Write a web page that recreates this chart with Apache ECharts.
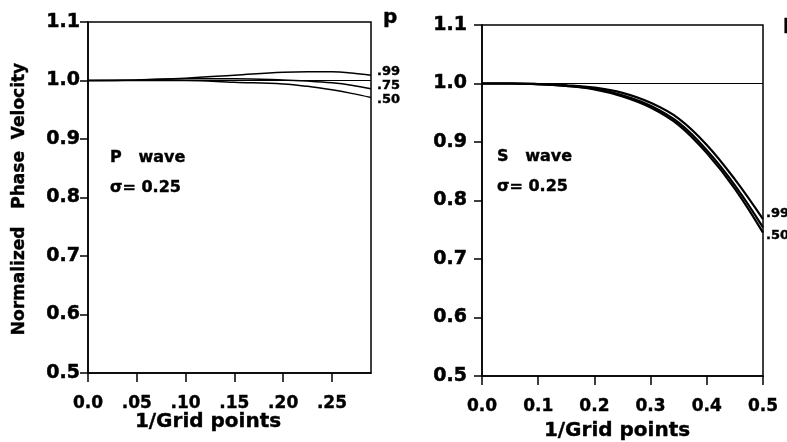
<!DOCTYPE html>
<html lang="en">
<head>
  <meta charset="utf-8">
  <style>
    html, body { margin: 0; padding: 0; background: #fff; }
    #chart { width: 787px; height: 442px; }
  </style>
</head>
<body>
  <div id="chart"></div>
  <script src="https://cdn.jsdelivr.net/npm/echarts@6/dist/echarts.min.js"></script>
  <script>
    // P wave panel
    var xP = [0, 0.05, 0.10, 0.15, 0.20, 0.225, 0.25, 0.27, 0.29];
    var p99 = [1.000, 1.001, 1.004, 1.009, 1.014, 1.015, 1.015, 1.013, 1.009];
    var p75 = [1.000, 1.001, 1.003, 1.003, 1.001, 0.999, 0.996, 0.992, 0.986];
    var p50 = [1.000, 1.000, 1.000, 0.997, 0.994, 0.990, 0.984, 0.978, 0.971];
    var xTicksP = [0, 0.05, 0.10, 0.15, 0.20, 0.25];
    var xLabelsP = ['0.0', '.05', '.10', '.15', '.20', '.25'];

    // S wave panel
    var xS = [0, 0.05, 0.10, 0.15, 0.20, 0.25, 0.30, 0.35, 0.40, 0.45, 0.50];
    var s99 = [1.000, 1.000, 0.999, 0.997, 0.993, 0.984, 0.967, 0.940, 0.895, 0.836, 0.768];
    var s75 = [1.000, 1.000, 0.999, 0.996, 0.991, 0.980, 0.962, 0.933, 0.886, 0.826, 0.754];
    var s50 = [1.000, 1.000, 0.999, 0.996, 0.990, 0.978, 0.959, 0.929, 0.881, 0.820, 0.745];
    var xTicksS = [0, 0.1, 0.2, 0.3, 0.4, 0.5];
    var xLabelsS = ['0.0', '0.1', '0.2', '0.3', '0.4', '0.5'];

    var refLevel = 1.0;
    var FONT = 'DejaVu Sans';

    function pairs(xs, ys) {
      return xs.map(function (x, i) { return [x, ys[i]]; });
    }

    function xAxisFor(idx, max, ticks, labels) {
      return {
        type: 'value', gridIndex: idx, min: 0, max: max,
        axisLine: { show: true, lineStyle: { color: '#000', width: 1.5 } },
        axisTick: { show: true, customValues: ticks, length: 9, lineStyle: { color: '#000', width: 1.5 } },
        axisLabel: {
          customValues: ticks, margin: 22, color: '#000',
          fontFamily: FONT, fontWeight: 'bold', fontSize: 17,
          textBorderColor: '#000', textBorderWidth: 0.4,
          formatter: function (v) {
            for (var i = 0; i < ticks.length; i++) {
              if (Math.abs(ticks[i] - v) < 1e-6) return labels[i];
            }
            return '';
          }
        },
        splitLine: { show: false }
      };
    }

    function yAxisFor(idx, margin) {
      return {
        type: 'value', gridIndex: idx, min: 0.5, max: 1.1, interval: 0.1,
        axisLine: { show: true, lineStyle: { color: '#000', width: 1.5 } },
        axisTick: { show: true, length: 8, lineStyle: { color: '#000', width: 1.5 } },
        axisLabel: {
          margin: margin, color: '#000',
          fontFamily: FONT, fontWeight: 'bold', fontSize: 19,
          textBorderColor: '#000', textBorderWidth: 0.5,
          formatter: function (v) { return v.toFixed(1); }
        },
        splitLine: { show: false }
      };
    }

    function curve(idx, xs, ys, w) {
      return {
        type: 'line', xAxisIndex: idx, yAxisIndex: idx,
        data: pairs(xs, ys), smooth: 0.4, symbol: 'none',
        lineStyle: { color: '#000', width: w }, silent: true
      };
    }

    function refLine(idx) {
      return {
        type: 'line', xAxisIndex: idx, yAxisIndex: idx, data: [],
        markLine: {
          silent: true, symbol: 'none', label: { show: false },
          lineStyle: { color: '#000', width: 1, type: 'solid' },
          data: [{ yAxis: refLevel }]
        }
      };
    }

    function txt(x, y, s, size, align, rot) {
      return {
        type: 'text', x: x, y: y, rotation: rot || 0, silent: true,
        style: {
          text: s, fill: '#000',
          font: 'bold ' + size + 'px "' + FONT + '"',
          stroke: '#000', lineWidth: 0.4,
          textAlign: align || 'left', textVerticalAlign: 'middle'
        }
      };
    }

    var chart = echarts.init(document.getElementById('chart'));
    chart.setOption({
      backgroundColor: '#fff',
      animation: false,
      grid: [
        { left: 88, top: 22, width: 283, height: 351, show: true, borderColor: '#000', borderWidth: 1.5 },
        { left: 482, top: 25, width: 281, height: 351, show: true, borderColor: '#000', borderWidth: 1.5 }
      ],
      xAxis: [xAxisFor(0, 0.29, xTicksP, xLabelsP), xAxisFor(1, 0.5, xTicksS, xLabelsS)],
      yAxis: [yAxisFor(0, 8), yAxisFor(1, 15)],
      series: [
        refLine(0),
        curve(0, xP, p99, 1.5), curve(0, xP, p75, 1.5), curve(0, xP, p50, 1.5),
        refLine(1),
        curve(1, xS, s99, 2.2), curve(1, xS, s75, 2.2), curve(1, xS, s50, 2.2)
      ],
      graphic: [
        txt(20, 199, 'Normalized   Phase  Velocity', 17, 'center', Math.PI / 2),
        txt(208, 422, '1/Grid points', 20, 'center'),
        txt(617, 431, '1/Grid points', 20, 'center'),
        txt(110, 158, 'P   wave', 16),
        txt(110, 188, 'σ= 0.25', 16),
        txt(497, 157, 'S   wave', 16),
        txt(497, 187, 'σ= 0.25', 16),
        txt(377, 72, '.99', 13),
        txt(377, 86, '.75', 13),
        txt(377, 100, '.50', 13),
        txt(766, 214, '.99', 13),
        txt(766, 236, '.50', 13),
        txt(383, 18, 'p', 20),
        txt(783, 24, 'p', 20)
      ]
    });
  </script>
</body>
</html>
